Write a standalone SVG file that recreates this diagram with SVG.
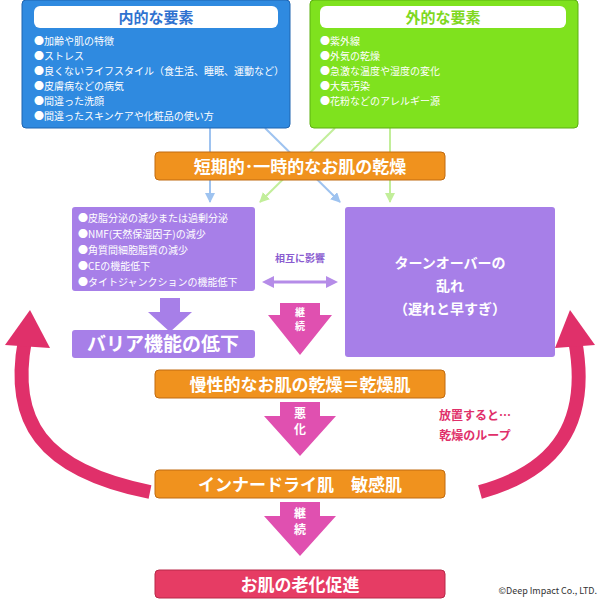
<svg xmlns="http://www.w3.org/2000/svg" width="600" height="600" viewBox="0 0 600 600">
<defs>
<style>
text{font-family:"Noto Sans CJK JP","Liberation Sans",sans-serif}
.li{font-size:10px;fill:#fff}
.ttl{font-size:17px;font-weight:bold;fill:#fff;text-anchor:middle}
.or{fill:#f0921e;stroke:#c06a10;stroke-width:1}
.pu{fill:#a77fe8}
.pk{fill:#e050b0}
</style>
<marker id="mb" viewBox="0 0 10 10" refX="9" refY="5" markerWidth="5" markerHeight="5" orient="auto"><path d="M0,0L10,5L0,10z" fill="#9ec3f0"/></marker>
<marker id="mg" viewBox="0 0 10 10" refX="9" refY="5" markerWidth="5" markerHeight="5" orient="auto"><path d="M0,0L10,5L0,10z" fill="#c2ee9a"/></marker>
<marker id="mp" viewBox="0 0 10 10" refX="5" refY="5" markerWidth="4" markerHeight="4" orient="auto-start-reverse"><path d="M0,0L10,5L0,10z" fill="#b58ce8"/></marker>
</defs>
<rect width="600" height="600" fill="#fff"/>
<g id="connectors" stroke-width="2" fill="none">
<line x1="210" y1="128" x2="210" y2="202" stroke="#9ec3f0" marker-end="url(#mb)"/>
<line x1="265" y1="128" x2="340" y2="202" stroke="#9ec3f0" marker-end="url(#mb)"/>
<line x1="335" y1="128" x2="260" y2="202" stroke="#c2ee9a" marker-end="url(#mg)"/>
<line x1="390" y1="128" x2="390" y2="202" stroke="#c2ee9a" marker-end="url(#mg)"/>
<line x1="268" y1="282" x2="332" y2="282" stroke="#b58ce8" stroke-width="3" marker-start="url(#mp)" marker-end="url(#mp)"/>
<path d="M160,298h20v14h12l-22,20l-22,-20h12z" fill="#a77fe8"/>
<path d="M150,492 C40,470 10,420 25,340" stroke="#e0306a" stroke-width="14"/>
<path d="M5,345 L30,310 L50,348z" fill="#e0306a"/>
<path d="M480,492 C560,470 590,420 575,340" stroke="#e0306a" stroke-width="14"/>
<path d="M555,348 L570,310 L595,345z" fill="#e0306a"/>
<path d="M280,303h40v12h12l-32,40l-32,-40h12z" class="pk"/>
<path d="M280,402h40v14h16l-36,40l-36,-40h16z" class="pk"/>
<path d="M280,502h40v14h16l-36,40l-36,-40h16z" class="pk"/>
</g>
<g id="n-internal">
<rect x="22" y="0" width="268" height="128" rx="4" fill="#2f8ae0" stroke="#1f64b0"/>
<rect x="34" y="6" width="244" height="22" rx="6" fill="#fff"/>
<text x="156" y="23" font-size="15" font-weight="bold" fill="#2f72d0" text-anchor="middle">内的な要素</text>
<text class="li" x="34" y="45">●加齢や肌の特徴</text>
<text class="li" x="34" y="60">●ストレス</text>
<text class="li" x="34" y="75">●良くないライフスタイル（食生活、睡眠、運動など）</text>
<text class="li" x="34" y="90">●皮膚病などの病気</text>
<text class="li" x="34" y="105">●間違った洗顔</text>
<text class="li" x="34" y="120">●間違ったスキンケアや化粧品の使い方</text>
</g>
<g id="n-external">
<rect x="310" y="0" width="268" height="128" rx="4" fill="#7fe21e" stroke="#5cb010"/>
<rect x="320" y="6" width="246" height="22" rx="6" fill="#fff"/>
<text x="443" y="23" font-size="15" font-weight="bold" fill="#7fd81e" text-anchor="middle">外的な要素</text>
<text class="li" x="320" y="45">●紫外線</text>
<text class="li" x="320" y="60">●外気の乾燥</text>
<text class="li" x="320" y="75">●急激な温度や湿度の変化</text>
<text class="li" x="320" y="90">●大気汚染</text>
<text class="li" x="320" y="105">●花粉などのアレルギー源</text>
</g>
<g id="n-short">
<rect class="or" x="155" y="152" width="290" height="28" rx="4"/>
<text class="ttl" x="300" y="173">短期的･一時的なお肌の乾燥</text>
</g>
<g id="n-causes">
<rect class="pu" x="72" y="207" width="183" height="84" rx="3"/>
<text class="li" x="78" y="222">●皮脂分泌の減少または過剰分泌</text>
<text class="li" x="78" y="238">●NMF(天然保湿因子)の減少</text>
<text class="li" x="78" y="254">●角質間細胞脂質の減少</text>
<text class="li" x="78" y="270">●CEの機能低下</text>
<text class="li" x="78" y="286">●タイトジャンクションの機能低下</text>
</g>
<text x="300" y="262" font-size="10" font-weight="bold" fill="#8a5cd0" text-anchor="middle">相互に影響</text>
<g id="n-turnover">
<rect class="pu" x="345" y="207" width="210" height="150" rx="3"/>
<text x="450" y="268" font-size="14" font-weight="bold" fill="#fff" text-anchor="middle">ターンオーバーの</text>
<text x="450" y="291" font-size="14" font-weight="bold" fill="#fff" text-anchor="middle">乱れ</text>
<text x="450" y="314" font-size="14" font-weight="bold" fill="#fff" text-anchor="middle">（遅れと早すぎ）</text>
</g>
<g id="n-barrier">
<rect class="pu" x="72" y="330" width="183" height="28" rx="3"/>
<text x="163" y="351" font-size="19" font-weight="bold" fill="#fff" text-anchor="middle">バリア機能の低下</text>
</g>
<text x="300" y="316" font-size="10" font-weight="bold" fill="#fff" text-anchor="middle">継</text>
<text x="300" y="330" font-size="10" font-weight="bold" fill="#fff" text-anchor="middle">続</text>
<g id="n-chronic">
<rect class="or" x="155" y="370" width="290" height="28" rx="4"/>
<text class="ttl" x="300" y="391">慢性的なお肌の乾燥＝乾燥肌</text>
</g>
<text x="300" y="418" font-size="12" font-weight="bold" fill="#fff" text-anchor="middle">悪</text>
<text x="300" y="434" font-size="12" font-weight="bold" fill="#fff" text-anchor="middle">化</text>
<g id="n-inner">
<rect class="or" x="155" y="470" width="290" height="28" rx="4"/>
<text class="ttl" x="300" y="491">インナードライ肌　敏感肌</text>
</g>
<text x="300" y="518" font-size="12" font-weight="bold" fill="#fff" text-anchor="middle">継</text>
<text x="300" y="534" font-size="12" font-weight="bold" fill="#fff" text-anchor="middle">続</text>
<g id="n-aging">
<rect x="155" y="570" width="290" height="28" rx="4" fill="#e63c64" stroke="#b82848"/>
<text class="ttl" x="300" y="591">お肌の老化促進</text>
</g>
<text x="475" y="420" font-size="12" font-weight="bold" fill="#e0306a" text-anchor="middle">放置すると…</text>
<text x="475" y="440" font-size="12" font-weight="bold" fill="#e0306a" text-anchor="middle">乾燥のループ</text>
<text x="597" y="594" font-size="9" fill="#333" text-anchor="end">©Deep Impact Co., LTD.</text>
</svg>
